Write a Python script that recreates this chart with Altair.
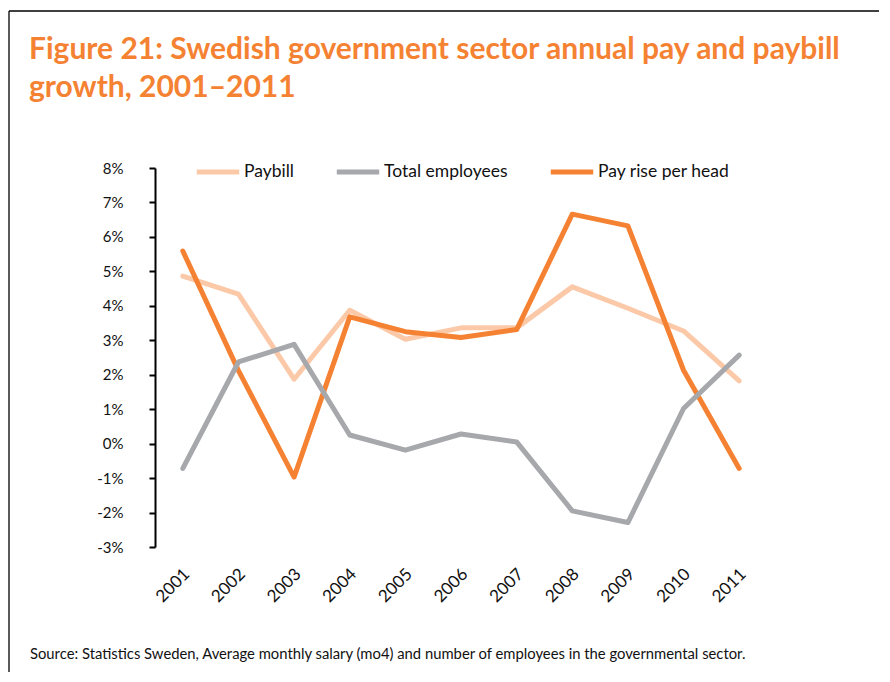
import altair as alt
import pandas as pd

years = ["2001", "2002", "2003", "2004", "2005", "2006", "2007", "2008", "2009", "2010", "2011"]
paybill = [4.86, 4.34, 1.87, 3.87, 3.03, 3.36, 3.36, 4.55, 3.93, 3.27, 1.82]
total_employees = [-0.72, 2.37, 2.88, 0.25, -0.19, 0.28, 0.05, -1.95, -2.29, 1.02, 2.57]
pay_rise_per_head = [5.59, 2.12, -0.97, 3.68, 3.25, 3.08, 3.31, 6.66, 6.32, 2.13, -0.72]

series_names = ["Paybill", "Total employees", "Pay rise per head"]
series_colors = ["#FBC9A8", "#A7A8AB", "#F58233"]
y_ticks = [-0.03, -0.02, -0.01, 0.0, 0.01, 0.02, 0.03, 0.04, 0.05, 0.06, 0.07, 0.08]

title_text = "Figure 21: Swedish government sector annual pay and paybill\ngrowth, 2001\u20132011"
source_text = ("Source: Statistics Sweden, Average monthly salary (mo4) and number of "
               "employees in the governmental sector.")

rows = []
for name, vals in zip(series_names, [paybill, total_employees, pay_rise_per_head]):
    for yr, v in zip(years, vals):
        rows.append({"year": yr, "series": name, "value": v / 100.0})
df = pd.DataFrame(rows)

W, H = 612, 379
FONT = "Lato"

xscale = alt.Scale(type="band", domain=years, paddingInner=0, paddingOuter=0)
yscale = alt.Scale(domain=[-0.03, 0.08], nice=False, zero=False)

x_enc = alt.X("year:N", scale=xscale, bandPosition=0.5,
              axis=alt.Axis(orient="bottom", offset=-H * 0.03 / 0.11, labels=False,
                            tickBand="extent", ticks=True, tickSize=6, tickWidth=2,
                            tickColor="#000", domainColor="#000", domainWidth=2,
                            title=None, grid=False))

lines = alt.Chart(df).mark_line(strokeWidth=5, strokeJoin="round", strokeCap="round").encode(
    x=x_enc,
    y=alt.Y("value:Q", scale=yscale,
            axis=alt.Axis(values=y_ticks, title=None, grid=False,
                          labelExpr="replace(format(datum.value, '.0%'), '\u2212', '-')",
                          tickSize=6, tickWidth=2, tickColor="#000",
                          domainColor="#000", domainWidth=2, labelPadding=26,
                          labelAlign="right",
                          labelFontSize=15, labelFont=FONT, labelColor="#111")),
    color=alt.Color("series:N",
                    scale=alt.Scale(domain=series_names, range=series_colors),
                    legend=alt.Legend(orient="none", direction="horizontal",
                                      legendX=39, legendY=-20, title=None,
                                      symbolType="stroke", symbolSize=1800,
                                      symbolStrokeWidth=5, labelFontSize=17.5,
                                      labelFont=FONT, labelColor="#111",
                                      labelOffset=2, columnPadding=32)),
    detail="series:N",
)

line_layers = []
for name in ["Paybill", "Pay rise per head", "Total employees"]:
    line_layers.append(lines.transform_filter(alt.datum.series == name))

ydf = pd.DataFrame({"year": years})
xlabels = alt.Chart(ydf).mark_text(angle=315, align="right", baseline="middle", dx=6,
                                   fontSize=17, font=FONT, color="#111").encode(
    x=alt.X("year:N", scale=xscale, bandPosition=0.5, axis=None),
    y=alt.value(H + 29),
    text="year:N",
)

one = alt.Data(values=[{"k": 1}])
title = alt.Chart(one).mark_text(align="left", baseline="alphabetic", fontSize=30,
                                 font=FONT, fontWeight="bold", color="#F58233",
                                 lineBreak="\n", lineHeight=38).encode(
    x=alt.value(-126), y=alt.value(-109), text=alt.value(title_text))
source = alt.Chart(one).mark_text(align="left", baseline="alphabetic", fontSize=14.8,
                                  font=FONT, color="#111").encode(
    x=alt.value(-125), y=alt.value(491), text=alt.value(source_text))
frame_left = alt.Chart(one).mark_rule(color="#000", strokeWidth=1.3).encode(
    x=alt.value(-146), y=alt.value(-157), y2=alt.value(700))
frame_top = alt.Chart(one).mark_rule(color="#000", strokeWidth=1.3).encode(
    x=alt.value(-146), x2=alt.value(800), y=alt.value(-157))

chart = alt.layer(frame_left, frame_top, title, source, xlabels, *line_layers).properties(
    width=W, height=H, autosize="none",
    padding={"left": 147, "top": 160, "right": 112, "bottom": 125},
    background="white",
).configure_view(stroke=None)

chart.save("out.html", embed_options={"renderer": "svg", "actions": False})
